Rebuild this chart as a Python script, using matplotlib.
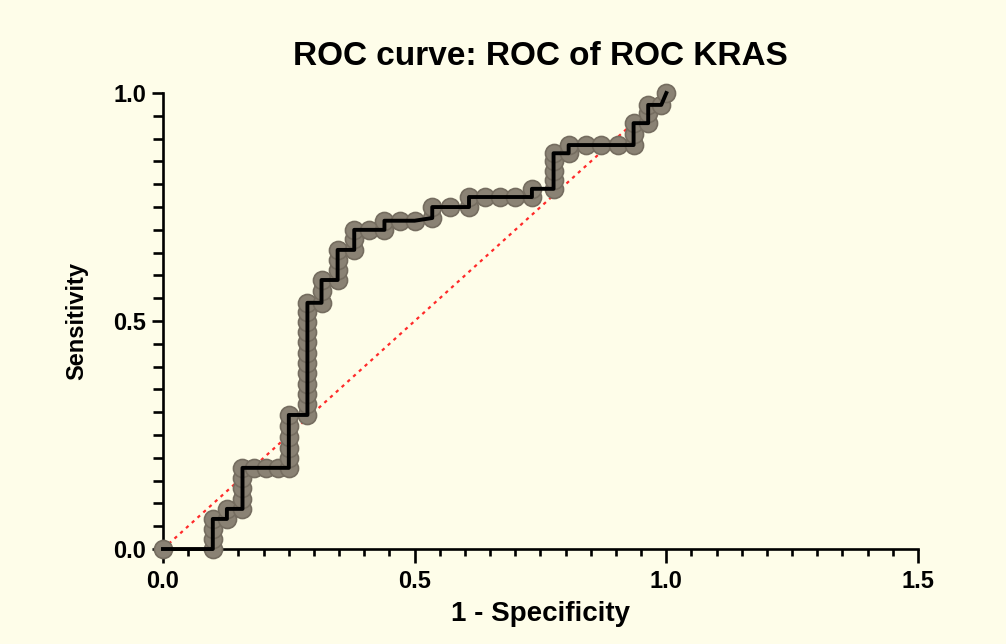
import matplotlib
matplotlib.use("Agg")
import matplotlib.pyplot as plt
from matplotlib.ticker import MultipleLocator

plt.rcParams['font.family'] = ['Liberation Sans', 'DejaVu Sans']

# ROC points (1 - specificity, sensitivity)
fpr = [0.0, 0.099, 0.099, 0.099, 0.099, 0.127, 0.127, 0.158, 0.158, 0.158, 0.158, 0.158,
       0.18, 0.205, 0.228, 0.25, 0.25, 0.25, 0.25, 0.25, 0.25,
       0.287, 0.287, 0.287, 0.287, 0.287, 0.287, 0.287, 0.287, 0.287, 0.287, 0.287, 0.287,
       0.315, 0.315, 0.315, 0.347, 0.347, 0.347, 0.347, 0.38, 0.38, 0.38,
       0.41, 0.44, 0.44, 0.47, 0.50, 0.535, 0.535, 0.57, 0.608, 0.608,
       0.64, 0.67, 0.70, 0.733, 0.733, 0.776, 0.776, 0.776, 0.776, 0.776,
       0.806, 0.806, 0.84, 0.87, 0.905, 0.935, 0.935, 0.935, 0.964, 0.964, 0.964,
       0.99, 1.0]
tpr = [0.0, 0.0, 0.022, 0.044, 0.066, 0.066, 0.088, 0.088, 0.11, 0.133, 0.155, 0.178,
       0.178, 0.178, 0.178, 0.178, 0.20, 0.222, 0.246, 0.27, 0.294,
       0.294, 0.317, 0.34, 0.362, 0.385, 0.408, 0.43, 0.453, 0.476, 0.498, 0.52, 0.54,
       0.54, 0.565, 0.59, 0.59, 0.612, 0.634, 0.656, 0.656, 0.68, 0.70,
       0.70, 0.70, 0.72, 0.72, 0.72, 0.726, 0.75, 0.75, 0.75, 0.772,
       0.772, 0.772, 0.772, 0.772, 0.79, 0.79, 0.81, 0.83, 0.85, 0.868,
       0.868, 0.886, 0.886, 0.886, 0.886, 0.886, 0.91, 0.934, 0.934, 0.956, 0.974,
       0.974, 1.0]

fig = plt.figure(figsize=(10.06, 6.44), dpi=100, facecolor='#fefde9')
ax = fig.add_axes([0.162, 0.1475, 0.7505, 0.708])
ax.set_facecolor('#fefde9')

# chance line
ax.plot([0, 1], [0, 1], color='#ff2a2a', linestyle=(0, (1.5, 2)), linewidth=1.6, zorder=2)

# markers then the step line on top
ax.plot(fpr, tpr, linestyle='none', marker='o', markersize=13,
        markerfacecolor='#8a8274', markeredgecolor='#756d60', markeredgewidth=1.2,
        clip_on=False, zorder=3)
ax.plot(fpr, tpr, color='black', linewidth=2.8, clip_on=False, zorder=4)

ax.set_xlim(0, 1.5)
ax.set_ylim(0, 1.0)
ax.xaxis.set_major_locator(MultipleLocator(0.5))
ax.xaxis.set_minor_locator(MultipleLocator(0.05))
ax.yaxis.set_major_locator(MultipleLocator(0.5))
ax.yaxis.set_minor_locator(MultipleLocator(0.05))
ax.xaxis.set_major_formatter(plt.FormatStrFormatter('%.1f'))
ax.yaxis.set_major_formatter(plt.FormatStrFormatter('%.1f'))

for s in ['top', 'right']:
    ax.spines[s].set_visible(False)
for s in ['left', 'bottom']:
    ax.spines[s].set_linewidth(1.9)

ax.tick_params(axis='x', which='major', direction='out', length=10, width=1.9, labelsize=17, pad=5)
ax.tick_params(axis='x', which='minor', direction='out', length=5, width=1.9)
ax.tick_params(axis='y', which='major', direction='out', length=8, width=1.9, labelsize=17, pad=4)
ax.tick_params(axis='y', which='minor', direction='out', length=7, width=1.9)
for lab in ax.get_xticklabels() + ax.get_yticklabels():
    lab.set_fontweight('bold')

ax.set_xlabel('1 - Specificity', fontsize=20, fontweight='bold', labelpad=6)
ax.set_ylabel('Sensitivity', fontsize=17, fontweight='bold', labelpad=18)
ax.set_title('ROC curve: ROC of ROC KRAS', fontsize=24, fontweight='bold', pad=20)

fig.savefig('out.png', dpi=100, facecolor=fig.get_facecolor())
